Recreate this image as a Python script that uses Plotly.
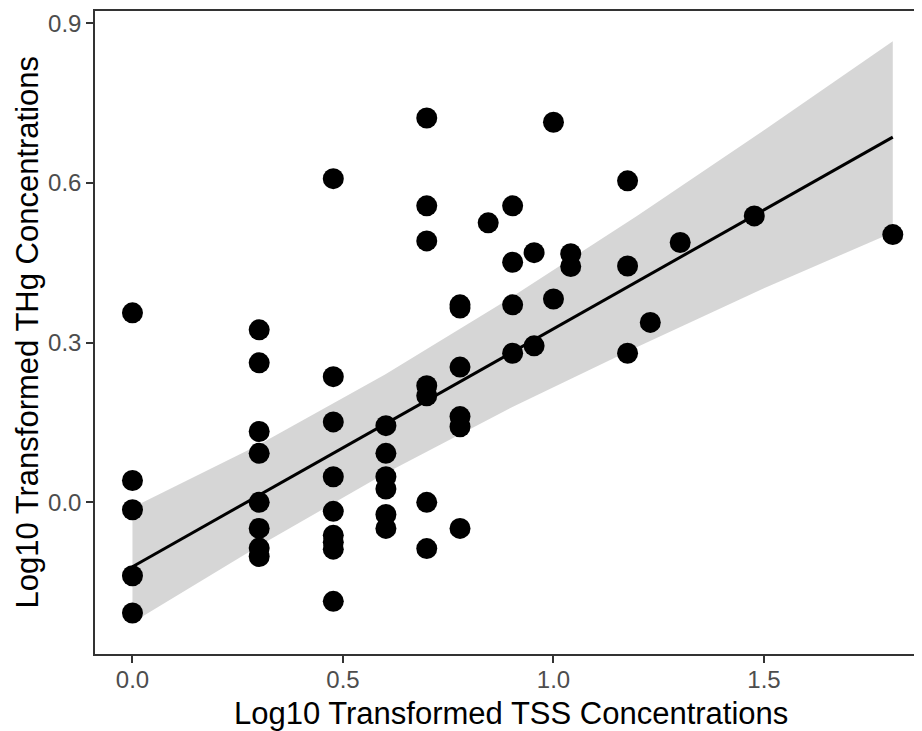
import plotly.graph_objects as go

# Log10 TSS (x) and Log10 THg (y) values
tss = [0.0]*5 + [0.301]*8 + [0.477]*9 + [0.602]*6 + [0.699]*7 + [0.778]*6 + \
      [0.845] + [0.903]*4 + [0.954]*2 + [1.0]*2 + [1.041]*2 + [1.176]*3 + \
      [1.230, 1.301, 1.477, 1.806]
thg = [0.356, 0.041, -0.014, -0.138, -0.208,
       0.324, 0.262, 0.133, 0.092, 0.0, -0.049, -0.086, -0.102,
       0.608, 0.236, 0.151, 0.048, -0.017, -0.062, -0.075, -0.088, -0.186,
       0.144, 0.092, 0.048, 0.025, -0.023, -0.049,
       0.722, 0.557, 0.491, 0.219, 0.200, 0.0, -0.087,
       0.371, 0.365, 0.254, 0.161, 0.142, -0.049,
       0.525,
       0.557, 0.451, 0.371, 0.280,
       0.469, 0.294,
       0.714, 0.382,
       0.467, 0.443,
       0.604, 0.444, 0.280,
       0.338, 0.488, 0.538, 0.503]

# Linear fit and 95% confidence band
smooth_x = [0.0, 0.3, 0.6, 0.9, 1.2, 1.5, 1.806]
smooth_y = [-0.121, 0.013, 0.147, 0.281, 0.415, 0.550, 0.686]
band_upper = [-0.010, 0.108, 0.240, 0.385, 0.539, 0.699, 0.866]
band_lower = [-0.226, -0.082, 0.054, 0.178, 0.292, 0.402, 0.507]

x_ticks = [0.0, 0.5, 1.0, 1.5]
y_ticks = [0.0, 0.3, 0.6, 0.9]
x_title = "Log10 Transformed TSS Concentrations"
y_title = "Log10 Transformed THg Concentrations"

fig = go.Figure()
fig.add_trace(go.Scatter(x=smooth_x + smooth_x[::-1],
                         y=band_upper + band_lower[::-1],
                         fill="toself", fillcolor="rgba(153,153,153,0.4)",
                         line=dict(width=0), mode="lines", hoverinfo="skip",
                         showlegend=False))
fig.add_trace(go.Scatter(x=smooth_x, y=smooth_y, mode="lines",
                         line=dict(color="black", width=3), showlegend=False))
fig.add_trace(go.Scatter(x=tss, y=thg, mode="markers",
                         marker=dict(color="black", size=21, line=dict(width=0)),
                         showlegend=False))

axis_common = dict(showgrid=False, zeroline=False, showline=True, linecolor="#333333",
                   linewidth=1.5, mirror=True, ticks="outside", ticklen=7,
                   tickcolor="#333333", tickwidth=1.5, automargin=False,
                   tickfont=dict(family="Liberation Sans, Arial", size=24, color="#4D4D4D"),
                   tickformat=".1f")

title_font = dict(family="Liberation Sans, Arial", size=31, color="black")

# page body has an 8px default margin: compensate so the panel sits at 95..921 x 11..654
fig.update_layout(
    width=914, height=723,
    margin=dict(l=87, r=1, t=3, b=77),
    paper_bgcolor="white", plot_bgcolor="white",
    font=dict(family="Liberation Sans, Arial", color="black"),
    xaxis=dict(range=[-0.089, 1.873], tickvals=x_ticks, ticklabelstandoff=-4,
               **axis_common),
    yaxis=dict(range=[-0.285, 0.923], tickvals=y_ticks, **axis_common),
    annotations=[
        dict(text=x_title, xref="paper", yref="paper", x=0.5, y=0,
             xanchor="center", yanchor="middle", xshift=3, yshift=-59,
             showarrow=False, font=title_font),
        dict(text=y_title, xref="paper", yref="paper", x=0, y=0.5,
             xanchor="center", yanchor="middle", xshift=-68, textangle=-90,
             showarrow=False, font=title_font),
    ],
)

fig.write_html("out.html")
